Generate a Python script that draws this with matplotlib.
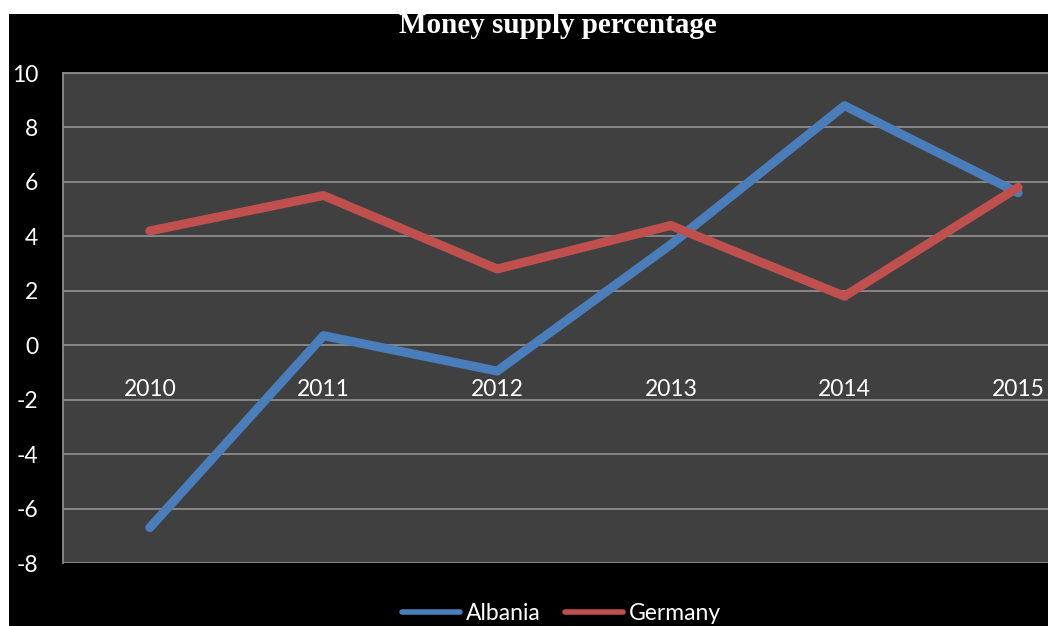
import matplotlib.pyplot as plt
from matplotlib.patches import Rectangle

years = ['2010', '2011', '2012', '2013', '2014', '2015']
albania = [-6.7, 0.35, -0.95, 3.7, 8.8, 5.6]
germany = [4.2, 5.5, 2.8, 4.4, 1.8, 5.8]
yticks = [-8, -6, -4, -2, 0, 2, 4, 6, 8, 10]

plt.rcParams['axes.unicode_minus'] = False

W, H = 1048, 626
fig = plt.figure(figsize=(W / 100, H / 100), dpi=100, facecolor='white')

# black chart area (screenshot is cropped, white strips top and left)
fig.patches.append(Rectangle((9 / W, 0), 1, 1 - 14 / H, transform=fig.transFigure,
                             facecolor='black', edgecolor='none', zorder=-5))

# plot area runs past the right edge of the crop
ax = fig.add_axes([63 / W, 1 - 563 / H, (1105 - 63) / W, (563 - 73) / H])
ax.set_zorder(1)
ax.set_facecolor('#404040')

x = range(len(years))
ax.plot(x, albania, color='#4a7ebb', lw=6.5, solid_capstyle='round',
        solid_joinstyle='round', label='Albania', zorder=3)
ax.plot(x, germany, color='#c0504d', lw=6.5, solid_capstyle='round',
        solid_joinstyle='round', label='Germany', zorder=3)

ax.set_xlim(-0.5, len(years) - 0.5)
ax.set_ylim(-8, 10)
ax.set_yticks(yticks)
ax.yaxis.grid(True, color='#8c8c8c', lw=1.3)
ax.set_axisbelow(True)

# category labels sit below the y=0 line
ax.spines['bottom'].set_position(('data', 0))
ax.spines['bottom'].set_visible(False)
ax.set_xticks(list(x))
ax.set_xticklabels(years)
for s in ['top', 'left']:
    ax.spines[s].set_color('#8c8c8c')
    ax.spines[s].set_linewidth(1.3)
ax.spines['right'].set_visible(False)

ax.tick_params(axis='x', length=0, pad=24, colors='white', labelsize=16.5)
ax.tick_params(axis='y', length=0, pad=18, colors='white', labelsize=16.5)
for lbl in ax.get_xticklabels() + ax.get_yticklabels():
    lbl.set_family('Lato')

fig.text(557.5 / W, 1 - 33 / H, 'Money supply percentage', ha='center', va='baseline',
         color='white', fontsize=21, fontweight='bold', family='Liberation Serif', zorder=2)

leg = fig.legend(loc='center', bbox_to_anchor=(561.5 / W, 1 - 614 / H), ncol=2,
                 frameon=False, handlelength=2.5, handletextpad=0.25, columnspacing=1.1,
                 prop={'family': 'Lato', 'size': 16.5})
for t in leg.get_texts():
    t.set_color('white')
for h in leg.get_lines():
    h.set_linewidth(4)
    h.set_solid_capstyle('round')

# white strip at the top of the crop hides the top of the title
fig.patches.append(Rectangle((0, 1 - 14 / H), 1, 14 / H, transform=fig.transFigure,
                             facecolor='white', edgecolor='none', zorder=10))

fig.savefig('out.png', dpi=100, facecolor=fig.get_facecolor())
